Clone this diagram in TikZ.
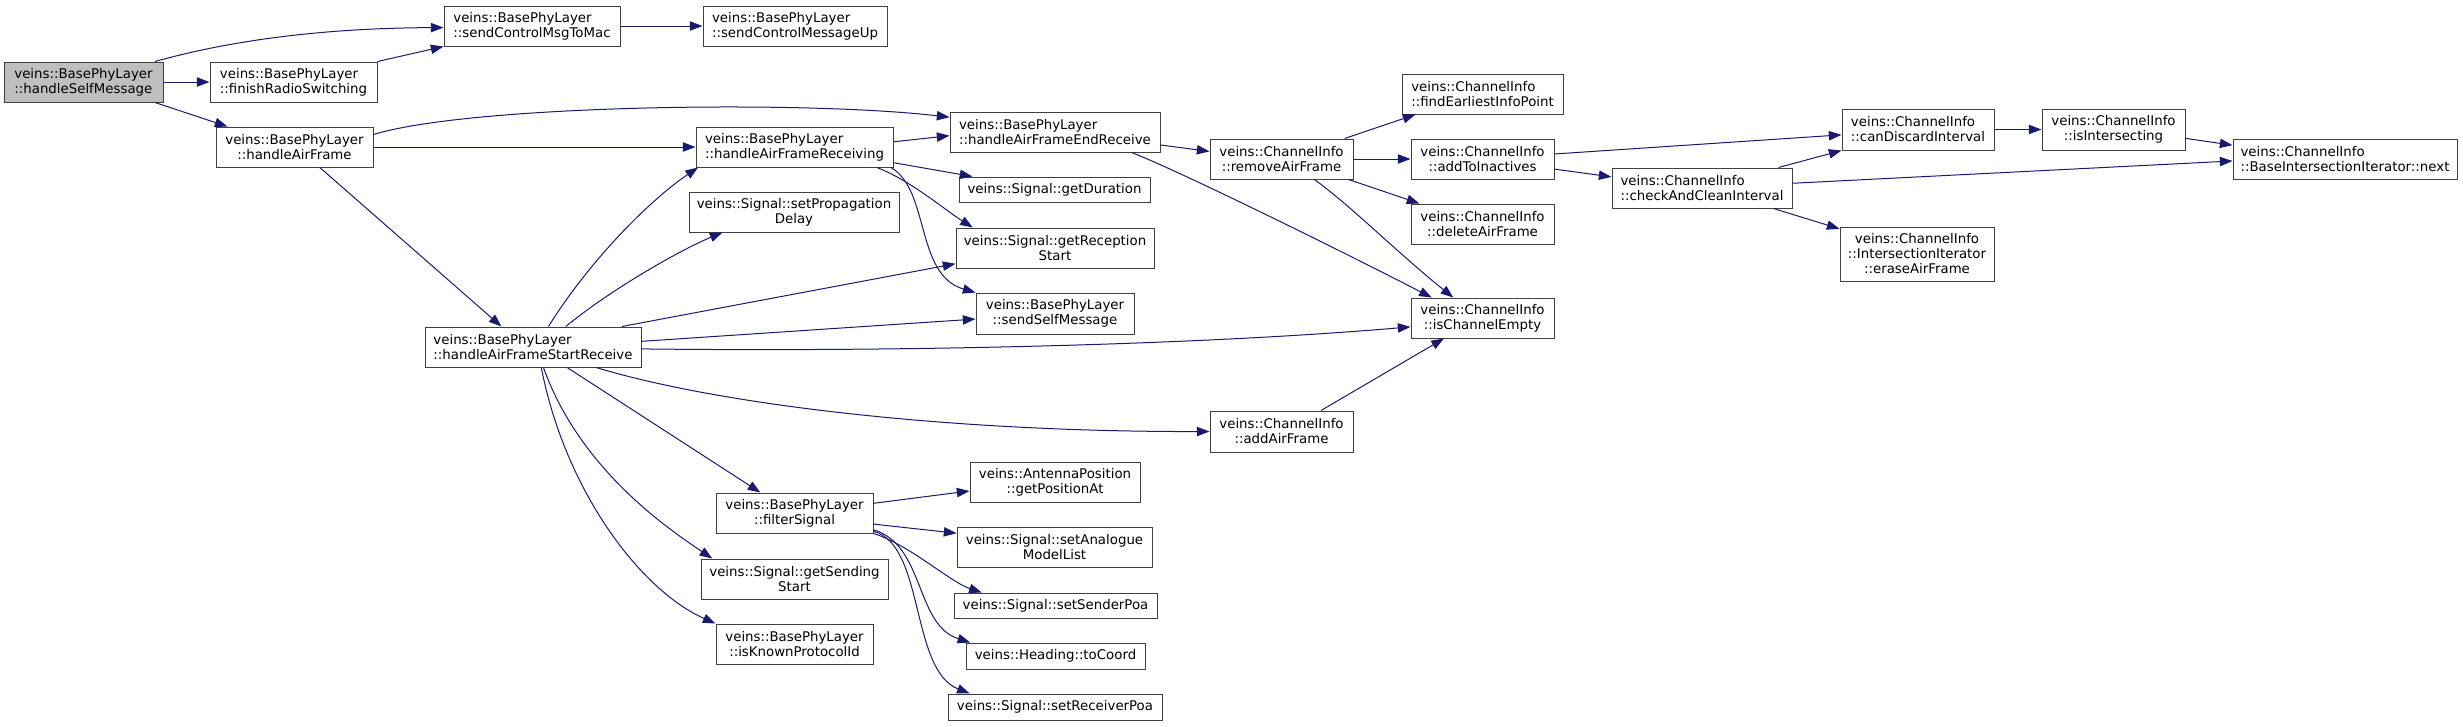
\documentclass[tikz,border=0pt]{standalone}
\usepackage{fontspec}
\newfontfamily\dvs{DejaVu Sans}
\usetikzlibrary{arrows.meta}
\definecolor{mblue}{HTML}{191970}
\begin{document}
\begin{tikzpicture}[
 x=.75pt,y=-.75pt,
 func/.style={draw=black!75,line width=.75pt,fill=white,align=center,inner sep=0pt,
   font=\dvs\fontsize{10}{11.25}\selectfont},
 lft/.style={align=left},
 root/.style={fill=black!25},
 sz/.style 2 args={minimum width=#1*.75pt,minimum height=#2*.75pt},
 call/.style={draw=mblue,line width=.75pt,-{Triangle[length=9.5pt,width=7pt]}}]
 \useasboundingbox (0,0) rectangle (2463,726);
 % callers on the left
 \node[func,root,lft,sz={159}{40}] (hsm) at (83.5,82) {veins::BasePhyLayer\\::handleSelfMessage};
 \node[func,lft,sz={167}{40}] (frs) at (293.5,82) {veins::BasePhyLayer\\::finishRadioSwitching};
 \node[func,sz={157}{40}] (haf) at (294.5,147) {veins::BasePhyLayer\\::handleAirFrame};
 \node[func,lft,sz={176}{40}] (scm) at (532,26) {veins::BasePhyLayer\\::sendControlMsgToMac};
 \node[func,lft,sz={216}{40}] (hafs) at (533,347) {veins::BasePhyLayer\\::handleAirFrameStartReceive};
 % BasePhyLayer column
 \node[func,lft,sz={184}{40}] (scu) at (795,26) {veins::BasePhyLayer\\::sendControlMessageUp};
 \node[func,lft,sz={197}{40}] (hafr) at (794.5,147) {veins::BasePhyLayer\\::handleAirFrameReceiving};
 \node[func,sz={210}{40}] (spd) at (794,212) {veins::Signal::setPropagation\\Delay};
 \node[func,sz={157}{40}] (fs) at (794.5,513) {veins::BasePhyLayer\\::filterSignal};
 \node[func,sz={187}{40}] (gss) at (794.5,579) {veins::Signal::getSending\\Start};
 \node[func,sz={157}{40}] (ikp) at (794.5,644) {veins::BasePhyLayer\\::isKnownProtocolId};
 % Signal column
 \node[func,lft,sz={210}{40}] (hafe) at (1055,132) {veins::BasePhyLayer\\::handleAirFrameEndReceive};
 \node[func,sz={191}{25}] (gd) at (1054.5,189.5) {veins::Signal::getDuration};
 \node[func,sz={198}{40}] (grs) at (1055,248) {veins::Signal::getReception\\Start};
 \node[func,sz={158}{41}] (ssm) at (1055,313.5) {veins::BasePhyLayer\\::sendSelfMessage};
 \node[func,sz={170}{40}] (gpa) at (1055,482) {veins::AntennaPosition\\::getPositionAt};
 \node[func,sz={195}{40}] (saml) at (1054.5,547) {veins::Signal::setAnalogue\\ModelList};
 \node[func,sz={203}{25}] (ssp) at (1055.5,605.5) {veins::Signal::setSenderPoa};
 \node[func,sz={179}{26}] (tc) at (1055.5,656) {veins::Heading::toCoord};
 \node[func,sz={214}{26}] (srp) at (1055,707) {veins::Signal::setReceiverPoa};
 % ChannelInfo columns
 \node[func,sz={143}{40}] (rem) at (1281.5,159) {veins::ChannelInfo\\::removeAirFrame};
 \node[func,sz={143}{41}] (aaf) at (1281.5,431.5) {veins::ChannelInfo\\::addAirFrame};
 \node[func,lft,sz={161}{40}] (fei) at (1482.5,94) {veins::ChannelInfo\\::findEarliestInfoPoint};
 \node[func,sz={143}{40}] (ati) at (1482.5,159) {veins::ChannelInfo\\::addToInactives};
 \node[func,sz={143}{40}] (daf) at (1482.5,224) {veins::ChannelInfo\\::deleteAirFrame};
 \node[func,sz={143}{40}] (ice) at (1482.5,318) {veins::ChannelInfo\\::isChannelEmpty};
 \node[func,lft,sz={180}{40}] (cci) at (1702,188) {veins::ChannelInfo\\::checkAndCleanInterval};
 \node[func,lft,sz={152}{41}] (cdi) at (1918,129.5) {veins::ChannelInfo\\::canDiscardInterval};
 \node[func,sz={154}{54}] (era) at (1917,254) {veins::ChannelInfo\\::IntersectionIterator\\::eraseAirFrame};
 \node[func,sz={143}{41}] (isi) at (2113.5,129.5) {veins::ChannelInfo\\::isIntersecting};
 \node[func,lft,sz={224}{40}] (nxt) at (2345,159) {veins::ChannelInfo\\::BaseIntersectionIterator::next};
 % calls
 \draw[call] (hsm.16.3) .. controls (250,35) and (350,28) .. (scm.181);
 \draw[call] (hsm.east) -- (frs.west);
 \draw[call] (hsm.-16.7) -- (haf.163.6);
 \draw[call] (frs.north east) -- (scm.south west);
 \draw[call] (scm.east) -- (scu.west);
 \draw[call] (haf.9.4) .. controls (470,105) and (800,100) .. (hafe.172.4);
 \draw[call] (haf.east) -- (hafr.west);
 \draw[call] (haf.-39.2) -- (hafs.147.2);
 \draw[call] (hafr.3.5) -- (hafe.182.7);
 \draw[call] (hafr.-9.2) -- (gd.171.5);
 \draw[call] (hafr.-14.3) .. controls (910,180) and (945,210) .. (grs.166.6);
 \draw[call] (hafr.-12.9) .. controls (930,190) and (915,275) .. (ssm.north west);
 \draw[call] (hafe.-7.1) -- (rem.174.4);
 \draw[call] (hafe.-15.3) .. controls (1165,165) and (1300,230) .. (ice.158);
 \draw[call] (rem.18.3) -- (fei.197.4);
 \draw[call] (rem.east) -- (ati.west);
 \draw[call] (rem.-17.7) -- (daf.162.3);
 \draw[call] (rem.-32.4) .. controls (1350,205) and (1400,255) .. (ice.145.9);
 \draw[call] (ati.4) -- (cdi.184.1);
 \draw[call] (ati.-8) -- (cci.173);
 \draw[call] (cci.15.3) -- (cdi.south west);
 \draw[call] (cci.3.2) -- (nxt.181.5);
 \draw[call] (cci.-16.6) -- (era.162.9);
 \draw[call] (cdi.east) -- (isi.west);
 \draw[call] (isi.-7.6) -- (nxt.173.9);
 \draw[call] (hafs.53.1) .. controls (590,260) and (650,200) .. (hafr.192.9);
 \draw[call] (hafs.32) .. controls (610,290) and (680,250) .. (spd.196.9);
 \draw[call] (hafs.13) -- (grs.189.6);
 \draw[call] (hafs.3.7) -- (ssm.184);
 \draw[call] (hafs.-1) .. controls (900,352) and (1200,345) .. (ice.187.2);
 \draw[call] (hafs.-18.2) .. controls (720,405) and (950,432) .. (aaf.west);
 \draw[call] (hafs.-31.2) -- (fs.149.2);
 \draw[call] (hafs.-63.4) .. controls (580,470) and (670,530) .. (gss.166.8);
 \draw[call] (hafs.-68.2) .. controls (565,490) and (640,590) .. (ikp.north west);
 \draw[call] (aaf.28) -- (ice.208);
 \draw[call] (fs.7.3) -- (gpa.186.7);
 \draw[call] (fs.-8) -- (saml.172.4);
 \draw[call] (fs.south east) .. controls (910,545) and (950,582) .. (ssp.170.1);
 \draw[call] (fs.-12) .. controls (925,545) and (915,625) .. (tc.171.4);
 \draw[call] (fs.-13) .. controls (925,545) and (910,670) .. (srp.171.9);
\end{tikzpicture}
\end{document}
